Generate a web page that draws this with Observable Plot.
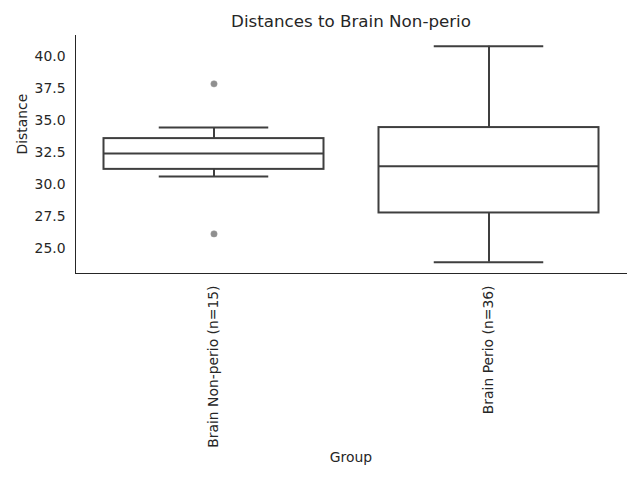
<!DOCTYPE html>
<html>
<head>
<meta charset="utf-8">
<script src="https://cdn.jsdelivr.net/npm/d3@7"></script>
<script src="https://cdn.jsdelivr.net/npm/@observablehq/plot@0.6"></script>
<style>
  html, body { margin: 0; padding: 0; background: #fff; }
  #chart svg { display: block; }
</style>
</head>
<body>
<div id="chart"></div>
<script>
// Data
const groups = ["Brain Non-perio (n=15)", "Brain Perio (n=36)"];
const whiskerLow = [30.64, 23.95];
const q1 = [31.2, 27.8];
const medians = [32.43, 31.44];
const q3 = [33.6, 34.46];
const whiskerHigh = [34.46, 40.8];
const outlierGroups = ["Brain Non-perio (n=15)", "Brain Non-perio (n=15)"];
const outlierValues = [37.87, 26.17];
const yTicks = [25.0, 27.5, 30.0, 32.5, 35.0, 37.5, 40.0];
const titleText = ["Distances to Brain Non-perio"];
const xLabel = ["Group"];
const yLabel = ["Distance"];

const stats = groups.map((g, i) => ({
  group: g, lo: whiskerLow[i], q1: q1[i], med: medians[i], q3: q3[i], hi: whiskerHigh[i]
}));
const outliers = outlierGroups.map((g, i) => ({group: g, value: outlierValues[i]}));

const boxColor = "#3f3f3f";
const textColor = "#262626";

const plot = Plot.plot({
  width: 640,
  height: 480,
  marginLeft: 75,
  marginRight: 14,
  marginTop: 35,
  marginBottom: 207,
  style: {fontFamily: "DejaVu Sans", fontSize: "13.9px", color: textColor, background: "#fff"},
  x: {domain: groups, padding: 0, label: null, tickSize: 0, tickPadding: 12, tickRotate: -90, line: true},
  y: {domain: [23.08, 41.64], ticks: yTicks, tickFormat: d3.format(".1f"), label: null, tickSize: 0, tickPadding: 10, line: true},
  marks: [
    Plot.ruleX(stats, {x: "group", y1: "lo", y2: "q1", stroke: boxColor, strokeWidth: 2}),
    Plot.ruleX(stats, {x: "group", y1: "q3", y2: "hi", stroke: boxColor, strokeWidth: 2}),
    Plot.tickY(stats, {x: "group", y: "lo", stroke: boxColor, strokeWidth: 2, insetLeft: 82.75, insetRight: 82.75}),
    Plot.tickY(stats, {x: "group", y: "hi", stroke: boxColor, strokeWidth: 2, insetLeft: 82.75, insetRight: 82.75}),
    Plot.barY(stats, {x: "group", y1: "q1", y2: "q3", fill: "white", stroke: boxColor, strokeWidth: 2, insetLeft: 27.5, insetRight: 27.5}),
    Plot.tickY(stats, {x: "group", y: "med", stroke: boxColor, strokeWidth: 2, insetLeft: 27.5, insetRight: 27.5}),
    Plot.dot(outliers, {x: "group", y: "value", r: 3.2, fill: "#8f8f8f", stroke: "#9a9a9a", strokeWidth: 0.5}),
    Plot.text(titleText, {frameAnchor: "top", dy: -14, lineAnchor: "middle", fontSize: 16.7, fill: textColor}),
    Plot.text(xLabel, {frameAnchor: "bottom", dy: 184, lineAnchor: "middle", fontSize: 13.9, fill: textColor}),
    Plot.text(yLabel, {frameAnchor: "left", dx: -53, rotate: -90, lineAnchor: "middle", fontSize: 13.9, fill: textColor})
  ]
});
document.getElementById("chart").appendChild(plot);
</script>
</body>
</html>
